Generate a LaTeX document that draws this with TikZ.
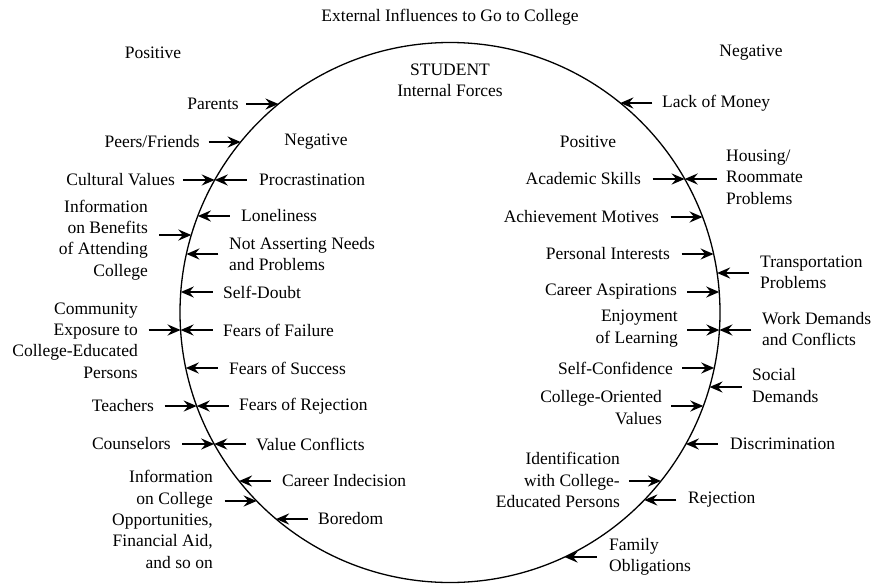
\documentclass[tikz,border=0pt]{standalone}
\usepackage{fontspec}
\setmainfont{Liberation Serif}
\newfontfamily\lserif{Liberation Serif}
\usetikzlibrary{arrows.meta}
\newcommand\cxr[1]{(sqrt(2.7*2.7-((#1-312.5)/100)^2)*100)}
\begin{document}
\begin{tikzpicture}[x=1pt,y=-1pt,
  every node/.style={inner sep=0pt,font=\lserif\fontsize{17.5}{21.3}\selectfont},
  lt/.style={anchor=east,align=right},
  rt/.style={anchor=west,align=left},
  arr/.style={line width=2.2pt,-{Stealth[length=13pt,width=11pt,inset=4.5pt]}},
  ring/.style={draw,line width=1.3pt}]
\useasboundingbox (0,0) rectangle (877,584);
\node[ring,circle,minimum size=540pt] (c) at (450,312.5) {};
% headers
\node (title) at (450,17) {External Influences to Go to College};
\node (posL) at (153,53) {Positive};
\node (negR) at (751,53) {Negative};
\node[align=center] (student) at (450,80.5) {STUDENT\\Internal Forces};
\node (negIn) at (316,142) {Negative};
\node (posIn) at (588,142) {Positive};
% ---- left external (positive) -> circle
\node[lt] (parents) at (239,104) {Parents};
\node[lt] (peers) at (200,142) {Peers/Friends};
\node[lt] (cultural) at (175,180) {Cultural Values};
\node[lt] (infoBen) at (148,240) {Information\\on Benefits\\of Attending\\College};
\node[lt] (community) at (138,340.5) {Community\\Exposure to\\College-Educated\\Persons};
\node[lt] (teachers) at (154,406) {Teachers};
\node[lt] (counselors) at (171,444) {Counselors};
\node[lt] (infoCol) at (213,519.5) {Information\\on College\\Opportunities,\\Financial Aid,\\and so on};
\foreach \n/\y in {parents/104,peers/142,cultural/180,infoBen/235,community/330,teachers/406,counselors/444,infoCol/501}{
  \coordinate (t-\n) at ({450-\cxr{\y}},\y);
  \draw[arr] ([xshift=-32pt]t-\n) -- (t-\n);
}
% ---- left internal (negative) -> circle
\node[rt] (procrast) at (259,180) {Procrastination};
\node[rt] (lonely) at (241,216) {Loneliness};
\node[rt] (notAssert) at (229,254) {Not Asserting Needs\\and Problems};
\node[rt] (selfDoubt) at (223,292) {Self-Doubt};
\node[rt] (fearsFail) at (223,330) {Fears of Failure};
\node[rt] (fearsSucc) at (229,368) {Fears of Success};
\node[rt] (fearsRej) at (239,406) {Fears of Rejection};
\node[rt] (valueConf) at (256,444) {Value Conflicts};
\node[rt] (careerInd) at (282,481) {Career Indecision};
\node[rt] (boredom) at (318,519) {Boredom};
\foreach \n/\y in {procrast/180,lonely/216,notAssert/254,selfDoubt/292,fearsFail/330,fearsSucc/368,fearsRej/406,valueConf/444,careerInd/481,boredom/519}{
  \coordinate (t-\n) at ({450-\cxr{\y}},\y);
  \draw[arr] ([xshift=32pt]t-\n) -- (t-\n);
}
% ---- right external (negative) -> circle
\node[rt] (money) at (662,103) {Lack of Money};
\node[rt] (housing) at (726,177) {Housing/\\Roommate\\Problems};
\node[rt] (transport) at (760,272.5) {Transportation\\Problems};
\node[rt] (work) at (762,329) {Work Demands\\and Conflicts};
\node[rt] (social) at (752,385.5) {Social\\Demands};
\node[rt] (discrim) at (730,444) {Discrimination};
\node[rt] (rejection) at (688,500) {Rejection};
\node[rt] (family) at (609,556.5) {Family\\Obligations};
\foreach \n/\y in {money/103,housing/179,transport/273,work/330,social/387,discrim/444,rejection/500,family/557}{
  \coordinate (t-\n) at ({450+\cxr{\y}},\y);
  \draw[arr] ([xshift=32pt]t-\n) -- (t-\n);
}
% ---- right internal (positive) -> circle
\node[lt] (academic) at (641,179) {Academic Skills};
\node[lt] (achieve) at (659,217) {Achievement Motives};
\node[lt] (personal) at (670,254) {Personal Interests};
\node[lt] (careerAsp) at (677,292) {Career Aspirations};
\node[lt] (enjoy) at (678,328.5) {Enjoyment\\of Learning};
\node[lt] (selfConf) at (673,368) {Self-Confidence};
\node[lt] (collegeOr) at (662,407.5) {College-Oriented\\Values};
\node[lt] (ident) at (620,480) {Identification\\with College-\\Educated Persons};
\foreach \n/\y in {academic/179,achieve/217,personal/254,careerAsp/292,enjoy/330,selfConf/368,collegeOr/406,ident/481}{
  \coordinate (t-\n) at ({450+\cxr{\y}},\y);
  \draw[arr] ([xshift=-32pt]t-\n) -- (t-\n);
}
\end{tikzpicture}
\end{document}
